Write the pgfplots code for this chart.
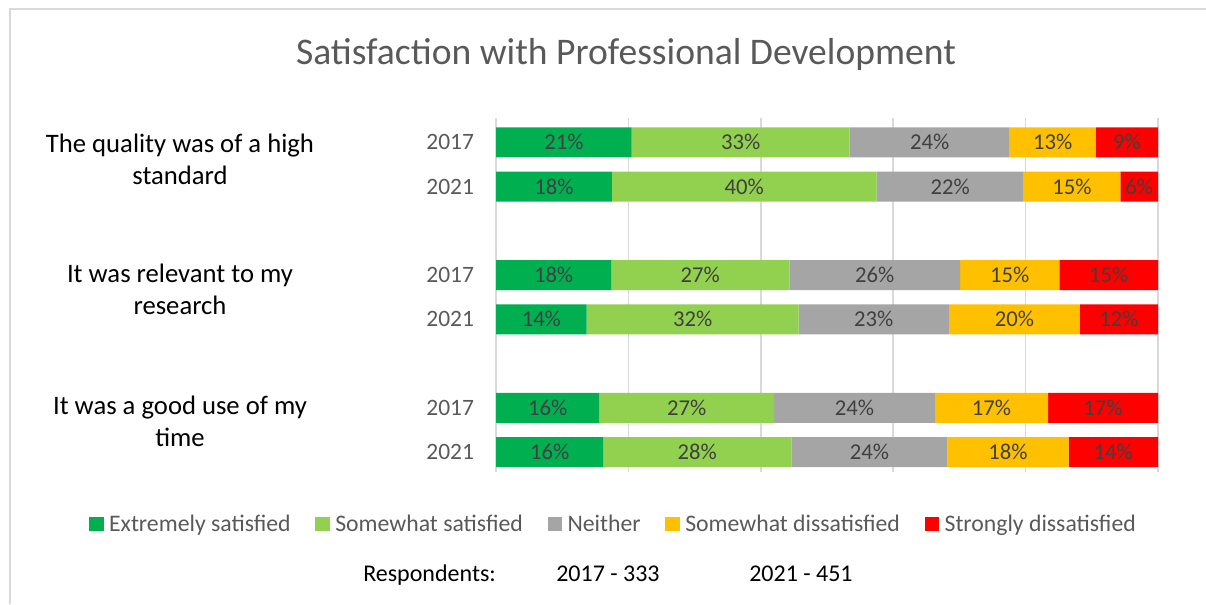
\documentclass[border=0pt]{standalone}
\usepackage{pgfplots}
\pgfplotsset{compat=1.18}
\usepackage{pgfplotstable}
\usepackage{fontspec}
\setmainfont{Carlito}
\definecolor{cA}{HTML}{00B050}
\definecolor{cB}{HTML}{92D050}
\definecolor{cC}{HTML}{A5A5A5}
\definecolor{cD}{HTML}{FFC000}
\definecolor{cE}{HTML}{FF0000}
\definecolor{tickc}{HTML}{595959}
\definecolor{labc}{HTML}{404040}
\definecolor{gridc}{HTML}{D9D9D9}
\pgfplotstableread{
y a b c d e la lb lc ld le
0 20.5 32.9 24.2 13.0 9.4 21 33 24 13 9
1 17.5 40.0 22.2 14.6 5.7 18 40 22 15 6
3 17.4 26.9 25.8 15.0 14.9 18 27 26 15 15
4 13.7 32.0 22.7 19.8 11.8 14 32 23 20 12
6 15.6 26.4 24.3 17.1 16.6 16 27 24 17 17
7 16.2 28.4 23.6 18.3 13.5 16 28 24 18 14
}\data
\pgfplotsset{
  common/.style={
    at={(372pt,99pt)}, anchor=south west, scale only axis,
    width=496.5pt, height=265.5pt,
    xmin=0, xmax=100, ymin=-0.55, ymax=7.45, y dir=reverse,
    /pgf/number format/assume math mode=true,
    clip=false,
  }
}
\begin{document}
\begin{tikzpicture}[x=0.75pt,y=0.75pt]
\path[use as bounding box] (0,0) rectangle (1206,604);
\draw[color=gridc, line width=1.5pt] (10,0) -- (10,594.5) -- (1206,594.5);
\node[anchor=base, font=\fontsize{28.2}{30}\selectfont, text=tickc, inner sep=0] at (626,539) {Satisfaction with Professional Development};
\begin{axis}[common,
  xbar stacked, bar width=22.5pt,
  axis line style={draw=none}, major tick length=0,
  xtick={0,20,40,60,80,100}, xticklabels={},
  xmajorgrids, grid style={color=gridc, line width=1.2pt},
  ytick={0,1,3,4,6,7}, yticklabels={2017,2021,2017,2021,2017,2021},
  yticklabel style={font=\fontsize{17.6}{20}\selectfont, text=tickc, xshift=-13pt},
  legend style={at={(0.178,-0.147)}, anchor=center, draw=none, fill=none,
    legend columns=5, font=\fontsize{17.8}{20}\selectfont, text=tickc,
    /tikz/every odd column/.append style={column sep=2pt},
    /tikz/every even column/.append style={column sep=16.5pt}},
  legend image code/.code={\fill[#1] (0pt,-5.5pt) rectangle (11pt,5.5pt);},
]
\addplot[fill=cA, draw=none] table[x=a, y=y] {\data};
\addplot[fill=cB, draw=none] table[x=b, y=y] {\data};
\addplot[fill=cC, draw=none] table[x=c, y=y] {\data};
\addplot[fill=cD, draw=none] table[x=d, y=y] {\data};
\addplot[fill=cE, draw=none] table[x=e, y=y] {\data};
\legend{Extremely satisfied, Somewhat satisfied, Neither, Somewhat dissatisfied, Strongly dissatisfied}
\node[align=center, font=\fontsize{20}{24}\selectfont, xshift=-237pt, yshift=3.75pt] at (axis cs:0,0.5) {The quality was of a high\\standard};
\node[align=center, font=\fontsize{20}{24}\selectfont, xshift=-237pt, yshift=6pt] at (axis cs:0,3.5) {It was relevant to my\\research};
\node[align=center, font=\fontsize{20}{24}\selectfont, xshift=-237pt, yshift=6.75pt] at (axis cs:0,6.5) {It was a good use of my\\time};
\end{axis}
\begin{axis}[common, hide axis,
  nodes near coords={\pgfmathprintnumber{\pgfplotspointmeta}\%},
  point meta=explicit,
  every node near coord/.append style={font=\fontsize{17}{20}\selectfont, text=labc, anchor=center, inner sep=0pt},
]
\addplot[draw=none, mark=none] table[x expr={\thisrow{a}/2}, y=y, meta=la] {\data};
\addplot[draw=none, mark=none] table[x expr={\thisrow{a}+\thisrow{b}/2}, y=y, meta=lb] {\data};
\addplot[draw=none, mark=none] table[x expr={\thisrow{a}+\thisrow{b}+\thisrow{c}/2}, y=y, meta=lc] {\data};
\addplot[draw=none, mark=none] table[x expr={\thisrow{a}+\thisrow{b}+\thisrow{c}+\thisrow{d}/2}, y=y, meta=ld] {\data};
\addplot[draw=none, mark=none] table[x expr={\thisrow{a}+\thisrow{b}+\thisrow{c}+\thisrow{d}+\thisrow{e}/2}, y=y, meta=le] {\data};
\end{axis}
\node[anchor=base west, inner sep=0, font=\fontsize{18}{20}\selectfont] at (363,23) {Respondents:};
\node[anchor=base west, inner sep=0, font=\fontsize{18}{20}\selectfont] at (556,23) {2017 - 333};
\node[anchor=base west, inner sep=0, font=\fontsize{18}{20}\selectfont] at (749,23) {2021 - 451};
\end{tikzpicture}
\end{document}
